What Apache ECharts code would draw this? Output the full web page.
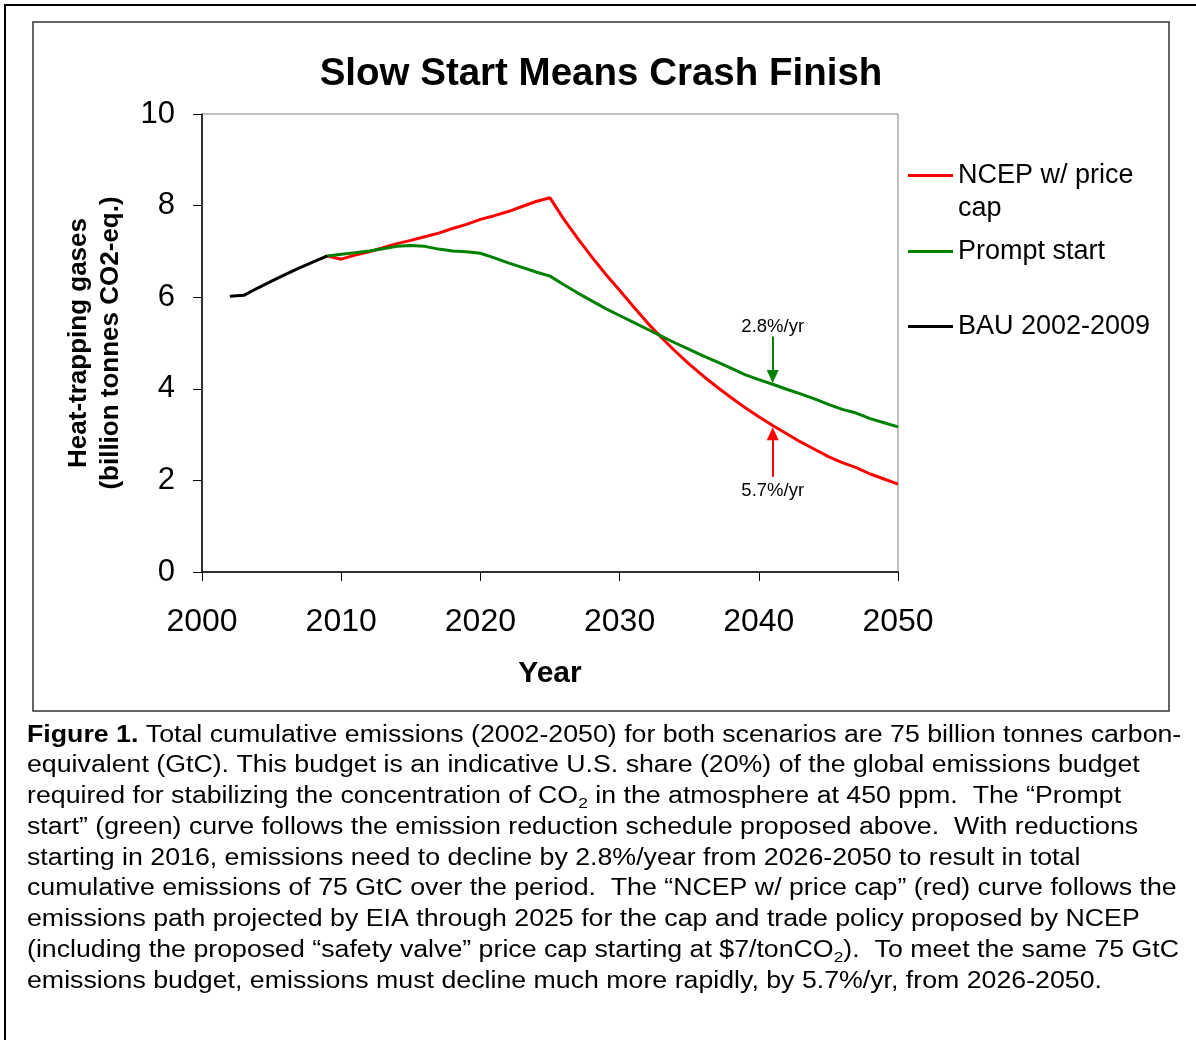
<!DOCTYPE html>
<html>
<head>
<meta charset="utf-8">
<script src="https://cdn.jsdelivr.net/npm/echarts@6/dist/echarts.min.js"></script>
<style>
  html, body { margin: 0; padding: 0; background: #fff; }
  #chart { width: 1196px; height: 1040px; }
</style>
</head>
<body>
<div id="chart"></div>
<script>
// values (billion tonnes CO2-eq.)
const bauYears = [2002, 2003, 2004, 2005, 2006, 2007, 2008, 2009]
const bauValues = [6.02, 6.04, 6.2, 6.35, 6.5, 6.64, 6.77, 6.9]

const scenarioYears = [2009, 2010, 2011, 2012, 2013, 2014, 2015, 2016, 2017, 2018,
  2019, 2020, 2021, 2022, 2023, 2024, 2025, 2026, 2027, 2028, 2029, 2030,
  2031, 2032, 2033, 2034, 2035, 2036, 2037, 2038, 2039, 2040,
  2041, 2042, 2043, 2044, 2045, 2046, 2047, 2048, 2049, 2050]
const ncepValues = [6.9, 6.83, 6.92, 6.99, 7.08, 7.17, 7.24, 7.32, 7.40, 7.50,
  7.59, 7.70, 7.78, 7.87, 7.98, 8.09, 8.17, 7.70, 7.28, 6.88, 6.50, 6.15,
  5.79, 5.44, 5.12, 4.82, 4.54, 4.28, 4.04, 3.81, 3.59, 3.39,
  3.20, 3.02, 2.84, 2.68, 2.52, 2.39, 2.28, 2.14, 2.03, 1.92]
const promptValues = [6.9, 6.94, 6.97, 7.01, 7.06, 7.11, 7.13, 7.11, 7.05, 7.01,
  6.99, 6.96, 6.86, 6.75, 6.65, 6.55, 6.46, 6.27, 6.09, 5.92, 5.75, 5.60,
  5.45, 5.30, 5.15, 5.00, 4.86, 4.72, 4.59, 4.45, 4.31, 4.20,
  4.10, 3.99, 3.89, 3.78, 3.66, 3.55, 3.47, 3.35, 3.26, 3.17]

const seriesNames = ['NCEP w/ price cap', 'Prompt start', 'BAU 2002-2009']
const xTicks = [2000, 2010, 2020, 2030, 2040, 2050]
const yTicks = [0, 2, 4, 6, 8, 10]

// rate annotations: [year, tail value, head value, label]
const promptArrow = [2041, 5.14, 4.27, '2.8%/yr']
const ncepArrow = [2041, 2.08, 3.02, '5.7%/yr']

const captionLines = [
  '{b|Figure 1.} Total cumulative emissions (2002-2050) for both scenarios are 75 billion tonnes carbon-',
  'equivalent (GtC). This budget is an indicative U.S. share (20%) of the global emissions budget',
  'required for stabilizing the concentration of CO{s|2} in the atmosphere at 450 ppm.  The \u201cPrompt',
  'start\u201d (green) curve follows the emission reduction schedule proposed above.  With reductions',
  'starting in 2016, emissions need to decline by 2.8%/year from 2026-2050 to result in total',
  'cumulative emissions of 75 GtC over the period.  The \u201cNCEP w/ price cap\u201d (red) curve follows the',
  'emissions path projected by EIA through 2025 for the cap and trade policy proposed by NCEP',
  '(including the proposed \u201csafety valve\u201d price cap starting at $7/tonCO{s|2}).  To meet the same 75 GtC',
  'emissions budget, emissions must decline much more rapidly, by 5.7%/yr, from 2026-2050.'
]

const FONT = "'Liberation Sans', Arial, sans-serif"
const RED = '#ff0000'
const GREEN = '#008000'

function pairs(xs, ys) {
  return xs.map((x, i) => [x, ys[i]])
}

function arrowLine(a, color, gap) {
  return {
    silent: true,
    animation: false,
    symbol: ['none', 'triangle'],
    symbolSize: [12, 13],
    lineStyle: { color: color, width: 2, type: 'solid' },
    label: {
      show: true,
      position: 'start',
      distance: gap,
      formatter: a[3],
      color: '#000',
      fontFamily: FONT,
      fontSize: 18.5
    },
    data: [[{ coord: [a[0], a[1]] }, { coord: [a[0], a[2]] }]]
  }
}

function legendAt(name, top, extra) {
  return Object.assign({
    data: [name],
    left: 908,
    top: top,
    padding: 0,
    icon: 'rect',
    itemWidth: 45,
    itemHeight: 3,
    itemGap: 5,
    selectedMode: false,
    textStyle: { color: '#000', fontFamily: FONT, fontSize: 27, lineHeight: 33 }
  }, extra || {})
}

const chart = echarts.init(document.getElementById('chart'))

chart.setOption({
  backgroundColor: '#fff',
  animation: false,
  title: {
    text: 'Slow Start Means Crash Finish',
    left: 601,
    textAlign: 'center',
    top: 55,
    padding: 0,
    textStyle: { color: '#000', fontFamily: FONT, fontWeight: 'bold', fontSize: 38.5 }
  },
  legend: [
    // leading blank line keeps the icon level with the first text line
    legendAt(seriesNames[0], 126, { formatter: () => '\nNCEP w/ price\ncap' }),
    legendAt(seriesNames[1], 235),
    legendAt(seriesNames[2], 310)
  ],
  grid: {
    left: 202,
    top: 114,
    right: 298,
    bottom: 468,
    show: true,
    borderColor: '#808080',
    borderWidth: 1,
    backgroundColor: '#fff'
  },
  xAxis: {
    type: 'value',
    min: xTicks[0],
    max: xTicks[xTicks.length - 1],
    interval: 10,
    name: 'Year',
    nameLocation: 'middle',
    nameGap: 87,
    nameTextStyle: { color: '#000', fontFamily: FONT, fontWeight: 'bold', fontSize: 30 },
    axisLine: { lineStyle: { color: '#000', width: 1.5 } },
    axisTick: { show: true, length: 9, lineStyle: { color: '#000' } },
    axisLabel: { color: '#000', fontFamily: FONT, fontSize: 32, margin: 34, formatter: v => String(v) },
    splitLine: { show: false }
  },
  yAxis: {
    type: 'value',
    min: yTicks[0],
    max: yTicks[yTicks.length - 1],
    interval: 2,
    name: 'Heat-trapping gases\n(billion tonnes CO2-eq.)',
    nameLocation: 'middle',
    nameRotate: 90,
    nameGap: 75,
    nameTextStyle: { color: '#000', fontFamily: FONT, fontWeight: 'bold', fontSize: 26, lineHeight: 32 },
    axisLine: { show: true, lineStyle: { color: '#000', width: 1.5 } },
    axisTick: { show: true, length: 9, lineStyle: { color: '#000' } },
    axisLabel: { color: '#000', fontFamily: FONT, fontSize: 31, margin: 27 },
    splitLine: { show: false }
  },
  series: [
    {
      name: seriesNames[0],
      type: 'line',
      data: pairs(scenarioYears, ncepValues),
      showSymbol: false,
      color: RED,
      lineStyle: { color: RED, width: 3 },
      markLine: arrowLine(ncepArrow, RED, 5)
    },
    {
      name: seriesNames[1],
      type: 'line',
      data: pairs(scenarioYears, promptValues),
      showSymbol: false,
      color: GREEN,
      lineStyle: { color: GREEN, width: 3 },
      markLine: arrowLine(promptArrow, GREEN, 0)
    },
    {
      name: seriesNames[2],
      type: 'line',
      data: pairs(bauYears, bauValues),
      showSymbol: false,
      color: '#000',
      lineStyle: { color: '#000', width: 3 }
    }
  ],
  graphic: [
    {
      type: 'rect',
      z: -10,
      silent: true,
      shape: { x: 5, y: 5, width: 1300, height: 1200 },
      style: { fill: '#fff', stroke: '#000', lineWidth: 2 }
    },
    {
      type: 'rect',
      z: -9,
      silent: true,
      shape: { x: 33, y: 22, width: 1136, height: 689 },
      style: { fill: '#fff', stroke: '#333', lineWidth: 1.5 }
    },
    {
      type: 'text',
      x: 27,
      y: 720,
      scaleX: 1.162,
      silent: true,
      style: {
        text: captionLines.join('\n'),
        fill: '#000',
        fontFamily: FONT,
        fontSize: 23,
        lineHeight: 30.75,
        rich: {
          b: { fontFamily: FONT, fontSize: 23, fontWeight: 'bold', lineHeight: 30.75 },
          s: { fontFamily: FONT, fontSize: 15, padding: [14, 0, 0, 0], lineHeight: 30.75 }
        }
      }
    }
  ]
})
</script>
</body>
</html>
